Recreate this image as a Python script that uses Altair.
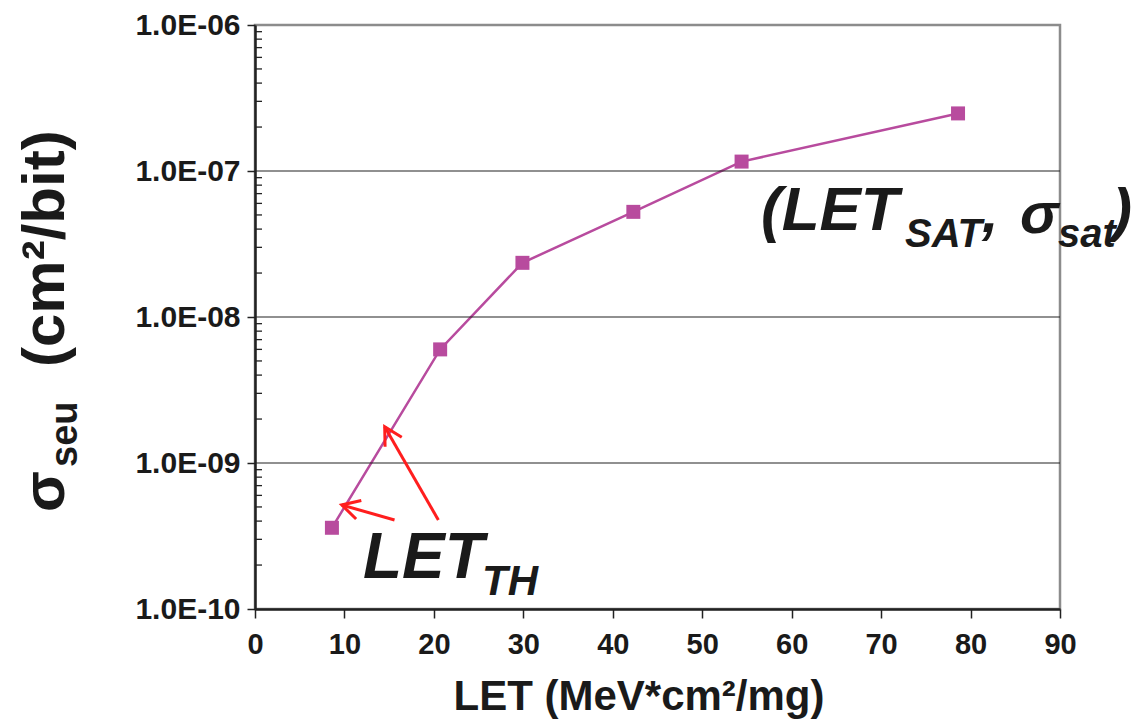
import altair as alt
import pandas as pd

# ---- data ----
let_values = [8.6, 20.7, 29.9, 42.3, 54.4, 78.6]
sigma_values = [3.6e-10, 6.0e-9, 2.35e-8, 5.25e-8, 1.16e-7, 2.48e-7]

x_tick_values = [0, 10, 20, 30, 40, 50, 60, 70, 80, 90]
y_decades = [1e-10, 1e-9, 1e-8, 1e-7, 1e-6]
y_gridlines = [1e-9, 1e-8, 1e-7]
y_minor = [m * d for d in [1e-10, 1e-9, 1e-8, 1e-7] for m in range(2, 10)]

arrow_from_let = [15.6, 20.5]
arrow_from_sigma = [4.07e-10, 4.07e-10]
arrow_to_let = [9.7, 14.5]
arrow_to_sigma = [5.16e-10, 1.77e-9]

# ---- styling ----
FONT = "Liberation Sans"
MAG = "#B84B9E"
RED = "#FF1E1E"
DARK = "#222222"

xs = alt.Scale(domain=[0, 90], nice=False, zero=False)
ys = alt.Scale(type="log", domain=[1e-10, 1e-6], nice=False)

x_axis = alt.Axis(
    values=x_tick_values, title=None, grid=False,
    labelFont=FONT, labelFontWeight="bold", labelFontSize=29, labelColor="#1a1a1a",
    tickSize=9, tickColor=DARK, tickWidth=1.5,
    domainColor=DARK, domainWidth=2.5, labelPadding=12,
    labelFlush=False, labelOverlap=False,
)
y_axis = alt.Axis(
    values=y_decades, title=None, grid=False,
    labelExpr="'1.0E-' + (round(-log(datum.value)/LN10) < 10 ? '0' : '') + round(-log(datum.value)/LN10)",
    labelFont=FONT, labelFontWeight="bold", labelFontSize=30, labelColor="#1a1a1a",
    tickSize=8, tickColor=DARK, tickWidth=1.5,
    domainColor=DARK, domainWidth=2.5, labelPadding=7,
    labelFlush=False, labelOverlap=False,
)


def X(field):
    return alt.X(field, scale=xs, axis=x_axis)


def Y(field):
    return alt.Y(field, scale=ys, axis=y_axis)


df = pd.DataFrame({"LET": let_values, "sigma": sigma_values})

line = alt.Chart(df).mark_line(color=MAG, strokeWidth=2.5).encode(
    x=X("LET:Q"), y=Y("sigma:Q"),
)

grid = alt.Chart(pd.DataFrame({"sigma": y_gridlines})).mark_rule(
    color=DARK, strokeWidth=1.2
).encode(y=Y("sigma:Q"))

minor = alt.Chart(pd.DataFrame({"sigma": y_minor})).mark_rule(
    color=DARK, strokeWidth=1.3
).encode(y=Y("sigma:Q"), x=alt.value(0), x2=alt.value(7))

points = alt.Chart(df).mark_point(
    shape="square", filled=True, size=196, color=MAG, opacity=1
).encode(x=X("LET:Q"), y=Y("sigma:Q"))

arrows_df = pd.DataFrame({
    "LET": arrow_from_let, "sigma": arrow_from_sigma,
    "LET_tip": arrow_to_let, "sigma_tip": arrow_to_sigma,
})
shafts = alt.Chart(arrows_df).mark_rule(color=RED, strokeWidth=3).encode(
    x=X("LET:Q"), y=Y("sigma:Q"), x2="LET_tip:Q", y2="sigma_tip:Q",
)
HEAD = "M-0.88,-0.48L0,0L-0.88,0.48"
head_a = alt.Chart(arrows_df.iloc[[0]]).mark_point(
    shape=HEAD, filled=False, size=1600, color=RED, strokeWidth=3, opacity=1, angle=195.7
).encode(x=X("LET_tip:Q"), y=Y("sigma_tip:Q"))
head_b = alt.Chart(arrows_df.iloc[[1]]).mark_point(
    shape=HEAD, filled=False, size=1600, color=RED, strokeWidth=3, opacity=1, angle=240.3
).encode(x=X("LET_tip:Q"), y=Y("sigma_tip:Q"))


def txt(label, x, y, size, angle=0, italic=False, align="left", color="#1a1a1a"):
    kw = dict(font=FONT, fontWeight="bold", fontSize=size, align=align,
              baseline="alphabetic", color=color)
    if italic:
        kw["fontStyle"] = "italic"
    if angle:
        kw["angle"] = angle
    return alt.Chart(pd.DataFrame({"label": [label]})).mark_text(**kw).encode(
        text="label:N", x=alt.value(x), y=alt.value(y)
    )


texts = [
    # x-axis title
    txt("LET (MeV*cm²/mg)", 384, 685, 42, align="center"),
    # y-axis title (rotated)
    txt("σ", -191, 487, 60, angle=270),
    txt("seu", -178, 442, 38, angle=270),
    txt("(cm²/bit)", -191, 342, 60, angle=270),
    # LET_TH annotation
    txt("LET", 108, 553, 64, italic=True),
    txt("TH", 227, 570, 42, italic=True),
    # (LET_SAT, sigma_sat) annotation
    txt("(LET", 506, 205, 62, italic=True),
    txt("SAT", 650, 222, 40, italic=True),
    txt(",", 727, 207, 60, italic=True),
    txt("σ", 765, 208, 58, italic=True),
    txt("sat", 803, 222, 40, italic=True),
    txt(")", 857, 205, 60, italic=True),
]

chart = alt.layer(line, grid, minor, points, shafts, head_a, head_b, *texts).properties(
    width=805, height=584,
    autosize=alt.AutoSizeParams(type="none"),
    padding={"left": 255, "top": 25, "right": 80, "bottom": 110},
    background="white",
).configure_view(stroke="#8c8c8c", strokeWidth=2.5)

chart.save("out.html", embed_options={"renderer": "svg", "actions": False})
